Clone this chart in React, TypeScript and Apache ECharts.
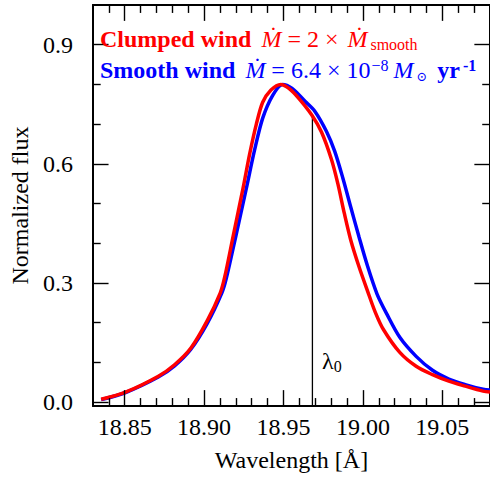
import React, { useEffect, useRef } from "react";
import * as echarts from "echarts";

// Clumped wind (red)
const wlClumped = [
  18.8352, 18.8506, 18.8712, 18.8814, 18.8917, 18.902, 18.9102, 18.913, 18.9184, 18.9246,
  18.9287, 18.9329, 18.9369, 18.9421, 18.9483, 18.9534, 18.9596, 18.9678, 18.9739, 18.9801,
  18.9842, 18.9883, 18.9924, 18.9976, 19.0027, 19.0078, 19.013, 19.0232, 19.0335, 19.0438,
  19.0541, 19.0644, 19.0756, 19.08,
];
const fluxClumped = [
  0.007, 0.025, 0.065, 0.094, 0.136, 0.205, 0.275, 0.315, 0.42, 0.54,
  0.625, 0.7, 0.755, 0.786, 0.8, 0.79, 0.765, 0.723, 0.68, 0.612,
  0.55, 0.475, 0.407, 0.34, 0.282, 0.226, 0.182, 0.125, 0.09, 0.069,
  0.0525, 0.04, 0.0275, 0.025,
];
// Smooth wind (blue)
const wlSmooth = [
  18.8352, 18.8506, 18.8712, 18.8814, 18.8917, 18.902, 18.9112, 18.9139, 18.9201, 18.9267,
  18.9318, 18.9369, 18.9431, 18.9493, 18.9554, 18.9637, 18.9698, 18.977, 18.9822, 18.9873,
  18.9924, 18.9976, 19.0027, 19.0089, 19.015, 19.0232, 19.0335, 19.0438, 19.0541, 19.0644,
  19.0756, 19.08,
];
const fluxSmooth = [
  0.006, 0.024, 0.063, 0.091, 0.133, 0.198, 0.275, 0.31, 0.42, 0.54,
  0.635, 0.715, 0.772, 0.8, 0.79, 0.757, 0.732, 0.682, 0.632, 0.565,
  0.49, 0.415, 0.345, 0.272, 0.222, 0.163, 0.115, 0.08, 0.058, 0.044,
  0.032, 0.03,
];

const lambda0 = 18.9682;
const lambda0Flux = 0.72;

const X_MIN = 18.83;
const X_MAX = 19.08;
const Y_MIN = -0.01;
const Y_MAX = 1.0;

const xMajorTicks = [18.85, 18.9, 18.95, 19.0, 19.05];
const xMinorTicks = [
  18.84, 18.86, 18.87, 18.88, 18.89, 18.91, 18.92, 18.93, 18.94, 18.96, 18.97, 18.98, 18.99,
  19.01, 19.02, 19.03, 19.04, 19.06, 19.07,
];
const yMajorTicks = [0, 0.3, 0.6, 0.9];
const yMinorTicks = [0.1, 0.2, 0.4, 0.5, 0.7, 0.8];

const FONT = "Liberation Serif";
// tick lengths in axis units (about 16 px and 8 px at this size)
const X_TICK_MAJOR = 0.04;
const X_TICK_MINOR = 0.02;
const Y_TICK_MAJOR = 0.00985;
const Y_TICK_MINOR = 0.0049;

function zip(xs: number[], ys: number[]) {
  return xs.map((x, i) => [x, ys[i]]);
}

function tickMarkLines() {
  const d: any[] = [];
  const xt = (vals: number[], len: number) =>
    vals.forEach((v) => {
      d.push([{ coord: [v, Y_MIN] }, { coord: [v, Y_MIN + len] }]);
      d.push([{ coord: [v, Y_MAX] }, { coord: [v, Y_MAX - len] }]);
    });
  const yt = (vals: number[], len: number) =>
    vals.forEach((v) => {
      d.push([{ coord: [X_MIN, v] }, { coord: [X_MIN + len, v] }]);
      d.push([{ coord: [X_MAX, v] }, { coord: [X_MAX - len, v] }]);
    });
  xt(xMajorTicks, X_TICK_MAJOR);
  xt(xMinorTicks, X_TICK_MINOR);
  yt(yMajorTicks, Y_TICK_MAJOR);
  yt(yMinorTicks, Y_TICK_MINOR);
  return d;
}

const legendRich = (color: string) => ({
  b: { fontFamily: FONT, fontSize: 24, fontWeight: "bold", fill: color, lineHeight: 26 },
  g: { fontFamily: FONT, fontSize: 20, fill: color, lineHeight: 26 },
  i: { fontFamily: FONT, fontSize: 24, fontStyle: "italic", fill: color, lineHeight: 26 },
  i2: { fontFamily: FONT, fontSize: 24, fontStyle: "italic", fill: color, lineHeight: 26, padding: [0, 0, 0, 3] },
  r: { fontFamily: FONT, fontSize: 24, fill: color, lineHeight: 26 },
  sub: { fontFamily: FONT, fontSize: 16, fill: color, lineHeight: 16, verticalAlign: "bottom", padding: [0, 0, 0, 3] },
  osub: { fontFamily: "DejaVu Serif", fontSize: 13, fill: color, lineHeight: 16, verticalAlign: "bottom", padding: [0, 5, 0, 3] },
  sup: { fontFamily: FONT, fontSize: 16, fill: color, lineHeight: 22, verticalAlign: "top", padding: [0, 5, 0, 1] },
  bb: { fontFamily: FONT, fontSize: 24, fontWeight: "bold", fill: color, lineHeight: 26 },
  bsup: { fontFamily: FONT, fontSize: 16, fontWeight: "bold", fill: color, lineHeight: 22, verticalAlign: "top", padding: [0, 0, 0, 3] },
});

export default function App() {
  const ref = useRef<HTMLDivElement>(null);
  useEffect(() => {
    if (!ref.current) return;
    const chart = echarts.init(ref.current, null, { renderer: "svg" });
    const option = {
      animation: false,
      backgroundColor: "#fff",
      grid: { left: 90, right: -6, top: 5, bottom: 68, containLabel: false },
      xAxis: [
        {
          type: "value",
          position: "bottom",
          min: X_MIN,
          max: X_MAX,
          axisLine: { show: true, onZero: false, lineStyle: { color: "#000", width: 2 } },
          axisTick: { show: false },
          axisLabel: {
            show: true,
            customValues: xMajorTicks,
            formatter: (v: number) => v.toFixed(2),
            margin: 9,
            color: "#000",
            fontSize: 24,
            fontFamily: FONT,
          },
          splitLine: { show: false },
          name: "Wavelength [Å]",
          nameLocation: "middle",
          nameGap: 42,
          nameTextStyle: { color: "#000", fontSize: 24, fontFamily: FONT },
        },
        {
          type: "value",
          position: "top",
          min: X_MIN,
          max: X_MAX,
          axisLine: { show: true, onZero: false, lineStyle: { color: "#000", width: 2 } },
          axisTick: { show: false },
          axisLabel: { show: false },
          splitLine: { show: false },
        },
      ],
      yAxis: [
        {
          type: "value",
          position: "left",
          min: Y_MIN,
          max: Y_MAX,
          axisLine: { show: true, onZero: false, lineStyle: { color: "#000", width: 2 } },
          axisTick: { show: false },
          axisLabel: {
            show: true,
            customValues: yMajorTicks,
            formatter: (v: number) => v.toFixed(1),
            margin: 20,
            color: "#000",
            fontSize: 24,
            fontFamily: FONT,
          },
          splitLine: { show: false },
          name: "Normalized flux",
          nameLocation: "middle",
          nameGap: 56,
          nameTextStyle: { color: "#000", fontSize: 24, fontFamily: FONT },
        },
        {
          type: "value",
          position: "right",
          min: Y_MIN,
          max: Y_MAX,
          axisLine: { show: true, onZero: false, lineStyle: { color: "#000", width: 2 } },
          axisTick: { show: false },
          axisLabel: { show: false },
          splitLine: { show: false },
        },
      ],
      series: [
        {
          type: "line",
          name: "lambda0",
          data: [
            [lambda0, Y_MIN],
            [lambda0, lambda0Flux],
          ],
          symbol: "none",
          lineStyle: { color: "#000", width: 1.3 },
          z: 1,
          markLine: {
            silent: true,
            symbol: ["none", "none"],
            label: { show: false },
            emphasis: { disabled: true },
            lineStyle: { color: "#000", width: 1.4, type: "solid", opacity: 1 },
            data: tickMarkLines(),
          },
        },
        {
          type: "line",
          name: "Smooth wind",
          data: zip(wlSmooth, fluxSmooth),
          smooth: 0.3,
          symbol: "none",
          lineStyle: { color: "#0000ff", width: 3.5 },
          z: 2,
        },
        {
          type: "line",
          name: "Clumped wind",
          data: zip(wlClumped, fluxClumped),
          smooth: 0.3,
          symbol: "none",
          lineStyle: { color: "#ff0000", width: 3.5 },
          z: 3,
        },
      ],
      graphic: [
        {
          id: "legend1",
          type: "text",
          x: 100,
          y: 39,
          z: 10,
          style: {
            text: "{b|Clumped wind}{g|\u00A0\u00A0}{i|Ṁ}{r|\u00A0=\u00A02\u00A0×\u00A0}{i2|Ṁ}{sub|smooth}",
            rich: legendRich("#ff0000"),
            verticalAlign: "middle",
            align: "left",
          },
        },
        {
          id: "legend2",
          type: "text",
          x: 100,
          y: 70,
          z: 10,
          style: {
            text:
              "{b|Smooth wind}{g|\u00A0\u00A0}{i|Ṁ}{r|\u00A0=\u00A06.4\u00A0×\u00A010}{sup|−8}{i|M}{osub|⊙}{g|\u00A0}{bb|yr}{bsup|-1}",
            rich: legendRich("#0000ff"),
            verticalAlign: "middle",
            align: "left",
          },
        },
        {
          id: "lambda0label",
          type: "text",
          x: 322,
          y: 361,
          z: 10,
          style: {
            text: "{l|λ}{s|0}",
            rich: {
              l: { fontFamily: FONT, fontSize: 24, fill: "#000", lineHeight: 26 },
              s: { fontFamily: FONT, fontSize: 16, fill: "#000", lineHeight: 11, verticalAlign: "bottom" },
            },
            verticalAlign: "middle",
            align: "left",
          },
        },
      ],
    };
    chart.setOption(option as any);
    return () => chart.dispose();
  }, []);
  return (
    <div
      ref={ref}
      style={{ position: "fixed", left: 0, top: 0, width: 490, height: 477, background: "#fff" }}
    />
  );
}
